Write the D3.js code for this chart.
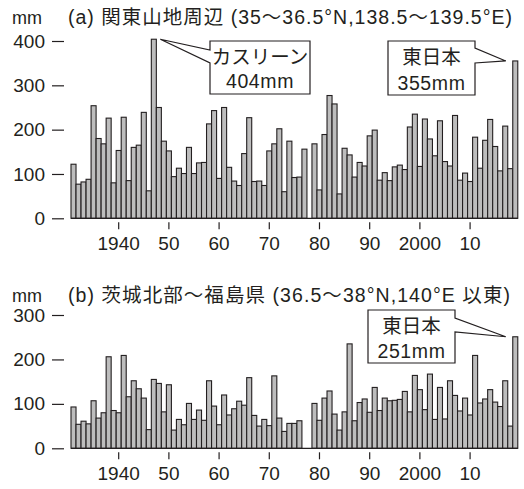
<!DOCTYPE html>
<html><head><meta charset="utf-8">
<script src="https://cdn.jsdelivr.net/npm/d3@7/dist/d3.min.js"></script>
<style>
body{margin:0;background:#fff}
svg{display:block}
text{font-family:"Liberation Sans","Noto Sans CJK JP",sans-serif;fill:#231f20}
</style>
</head><body>
<svg id="c" width="524" height="489"></svg>
<script>
// ---- data ----
const years = d3.range(1931, 2020);
const kantoRain = [
 122,77,82,88,254,180,168,226,80,153,
 228,85,160,165,239,62,404,250,174,152,
 94,113,101,160,101,125,126,213,243,90,
 250,115,84,74,146,227,83,84,74,152,
 168,202,60,174,92,93,156,null,168,64,
 189,277,258,55,158,143,93,126,118,186,
 199,86,103,85,116,120,110,206,235,117,
 224,179,141,220,128,118,232,86,102,83,
 183,113,176,223,162,107,208,112,355];
const ibarakiRain = [
 93,54,61,55,107,68,80,206,85,80,
 209,116,152,134,113,42,155,146,82,143,
 41,65,53,101,65,86,63,152,95,53,
 120,75,89,106,97,159,74,50,65,51,
 163,68,38,56,56,62,null,null,101,63,
 113,129,77,41,82,235,62,103,111,81,
 137,85,113,107,108,110,128,82,164,132,
 87,167,65,137,66,152,119,84,113,75,
 209,102,111,132,104,94,152,50,251];
const yTicksA = [0,100,200,300,400];
const yTicksB = [0,100,200,300];
const xTicks = [1940,1950,1960,1970,1980,1990,2000,2010];
const xTickLabels = ["1940","50","60","70","80","90","2000","10"];
const unitLabel = "mm";
const titleA = "(a) 関東山地周辺 (35～36.5°N,138.5～139.5°E)";
const titleB = "(b) 茨城北部～福島県 (36.5～38°N,140°E 以東)";
const notesA = [{year:1947, lines:["カスリーン","404mm"]},{year:2019, lines:["東日本","355mm"]}];
const notesB = [{year:2019, lines:["東日本","251mm"]}];

// ---- drawing ----
const svg = d3.select("#c");
const ink = "#231f20";
const x = d3.scaleBand().domain(years).range([71, 71 + years.length*5.02]).paddingInner(0).paddingOuter(0);

function panel(values, yDomain, yRange, ticks, title, titleY, titleLen) {
  const y = d3.scaleLinear().domain(yDomain).range(yRange);
  const g = svg.append("g");
  g.append("text").attr("x", 12).attr("y", titleY).attr("font-size", 18).text(unitLabel);
  g.append("text").attr("x", 68).attr("y", titleY).attr("font-size", 19.5)
    .attr("textLength", titleLen).attr("lengthAdjust", "spacing").text(title);

  const ya = g.append("g").attr("transform", "translate(64,0)")
    .call(d3.axisLeft(y).tickValues(ticks).tickSize(12).tickPadding(7));
  ya.select(".domain").remove();
  ya.selectAll("line").attr("stroke", ink).attr("stroke-width", 1.2);
  ya.selectAll("text").attr("font-size", 19).attr("fill", ink).attr("font-family", null);

  const data = years.map((yr, i) => ({yr, v: values[i]})).filter(d => d.v != null);
  g.append("g").selectAll("rect").data(data).join("rect")
    .attr("x", d => x(d.yr)).attr("width", x.bandwidth())
    .attr("y", d => y(d.v)).attr("height", d => y(0) - y(d.v))
    .attr("fill", "#bdbdbd").attr("stroke", ink).attr("stroke-width", 1.1);
  g.append("line").attr("x1", x(years[0])).attr("x2", x(years[years.length-1]) + x.bandwidth())
    .attr("y1", y(0)).attr("y2", y(0)).attr("stroke", ink).attr("stroke-width", 1.2);

  const xa = g.append("g").attr("transform", `translate(0,${y(0)+4})`)
    .call(d3.axisBottom(x).tickValues(xTicks).tickSize(7).tickPadding(7)
      .tickFormat(d => xTickLabels[xTicks.indexOf(d)]));
  xa.select(".domain").remove();
  xa.selectAll("line").attr("stroke", ink).attr("stroke-width", 1.2);
  xa.selectAll("text").attr("font-size", 19).attr("fill", ink).attr("font-family", null);
  return {g, y};
}

const A = panel(kantoRain, [0,400], [218.3, 41], yTicksA, titleA, 23.5, 444);
const B = panel(ibarakiRain, [0,300], [448.3, 315], yTicksB, titleB, 302, 442);

function callout(P, note, values, box, side, b1, b2, ty) {
  const i = years.indexOf(note.year);
  const v = values[i];
  let tip;
  if (side === "left") tip = [x(note.year) + x.bandwidth() + 4, P.y(v)];
  else tip = [x(note.year) - 7, P.y(v)];
  const [x0, y0, x1, y1] = box;
  let d;
  if (side === "left")
    d = `M${x0},${y0}H${x1}V${y1}H${x0}V${b2}L${tip[0]},${tip[1]}L${x0},${b1}Z`;
  else
    d = `M${x0},${y0}H${x1}V${b1}L${tip[0]},${tip[1]}L${x1},${b2}V${y1}H${x0}Z`;
  P.g.append("path").attr("d", d).attr("fill", "#fff").attr("stroke", ink).attr("stroke-width", 1.2);
  const cx = (x0 + x1) / 2;
  P.g.append("text").attr("x", cx).attr("y", ty[0]).attr("text-anchor", "middle")
    .attr("font-size", 19.5).text(note.lines[0]);
  P.g.append("text").attr("x", cx).attr("y", ty[1]).attr("text-anchor", "middle")
    .attr("font-size", 19.5).attr("letter-spacing", 0.6).text(note.lines[1]);
}

callout(A, notesA[0], kantoRain, [210, 41, 310, 94], "left", 50, 63, [64, 88]);
callout(A, notesA[1], kantoRain, [388, 41, 475, 95], "right", 48, 63, [64, 90]);
callout(B, notesB[0], ibarakiRain, [368, 310, 455, 363], "right", 318, 332, [333, 358]);
</script>
</body></html>
